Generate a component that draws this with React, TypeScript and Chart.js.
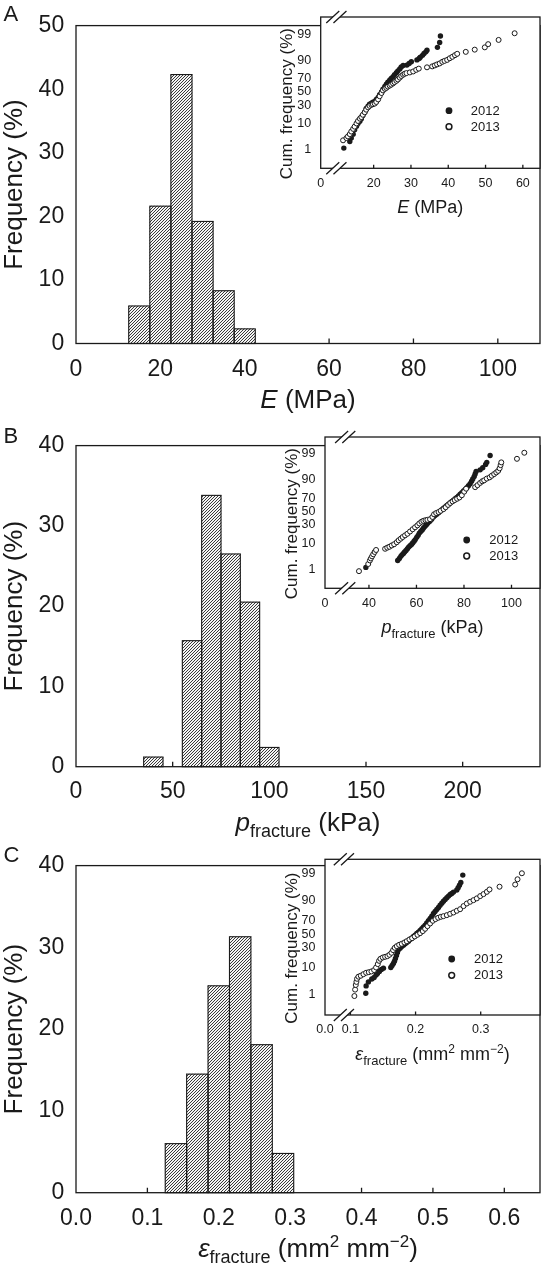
import React, { useEffect, useRef } from "react";
import { Chart, registerables } from "chart.js";
Chart.register(...registerables);

const FONT = '"Liberation Sans", Arial, Helvetica, sans-serif';
const INK = "#1a1a1a";

// ---------------- Panel A : E (MPa) ----------------
const A_BIN_CENTERS = [15, 20, 25, 30, 35, 40];
const A_FREQ = [5.9, 21.6, 42.3, 19.2, 8.3, 2.3];
const A_X_TICKS = [0, 20, 40, 60, 80, 100];
const A_X_LABELS = ["0", "20", "40", "60", "80", "100"];
const A_Y_TICKS = [0, 10, 20, 30, 40, 50];

const A_2012_E = [12.0, 13.6, 14.0, 14.5, 14.9, 15.4, 15.8, 16.3, 16.7, 17.1, 17.6, 18.0, 18.5, 18.9, 19.4, 19.8, 20.3, 20.7, 21.2, 21.6, 22.1, 22.5, 23.0, 23.4, 23.8, 24.3, 24.7, 25.2, 25.6, 26.1, 26.5, 27.0, 27.4, 27.9, 28.9, 29.5, 30.1, 31.6, 32.2, 32.5, 33.1, 33.5, 34.0, 34.3, 37.1, 37.7, 37.9];
const A_2012_CUM = [1.2, 2.3, 3.2, 4.5, 6.4, 8.4, 10.3, 12.0, 14.2, 17.3, 20.8, 25.5, 28.5, 31.2, 32.6, 34.0, 35.4, 38.3, 41.3, 45.9, 50.0, 54.6, 58.7, 62.2, 65.5, 68.4, 70.6, 73.2, 75.7, 78.1, 80.3, 82.4, 84.3, 85.8, 86.1, 87.5, 88.8, 90.2, 91.1, 91.9, 93.0, 94.0, 94.7, 95.4, 96.4, 97.7, 98.8];
const A_2013_E = [11.8, 12.7, 13.1, 13.6, 14.0, 14.5, 14.9, 15.4, 15.8, 16.3, 16.7, 17.1, 17.6, 18.0, 18.5, 18.9, 19.4, 19.8, 20.3, 20.7, 21.2, 21.6, 22.1, 22.5, 23.0, 23.4, 23.8, 24.3, 24.7, 25.2, 25.6, 26.1, 26.5, 27.0, 27.4, 27.9, 28.3, 28.8, 29.7, 30.6, 31.4, 32.1, 34.3, 35.7, 36.4, 37.0, 37.7, 38.4, 39.0, 39.7, 40.4, 41.1, 41.8, 42.4, 44.7, 47.1, 49.8, 50.7, 53.5, 57.8];
const A_2013_CUM = [2.6, 3.2, 3.7, 4.5, 5.6, 6.9, 8.2, 10.3, 12.2, 14.2, 15.7, 18.0, 20.8, 23.9, 26.8, 28.9, 30.3, 31.2, 32.1, 34.5, 38.3, 43.3, 48.4, 52.6, 55.1, 56.7, 58.7, 60.2, 61.7, 63.6, 65.5, 67.4, 69.3, 71.9, 74.1, 75.7, 76.9, 77.7, 78.5, 79.6, 81.4, 82.7, 84.0, 84.9, 85.8, 86.7, 87.5, 88.8, 89.5, 90.2, 91.3, 92.2, 93.1, 93.8, 94.7, 95.6, 96.4, 97.3, 98.2, 99.1];
const A_INSET_X_TICKS = [20, 30, 40, 50, 60];
const A_INSET_X_LABELS = ["20", "30", "40", "50", "60"];
const A_INSET_ORIGIN = "0";

// ---------------- Panel B : p fracture (kPa) ----------------
const B_BIN_CENTERS = [40, 60, 70, 80, 90, 100];
const B_FREQ = [1.2, 15.7, 33.8, 26.5, 20.5, 2.4];
const B_X_TICKS = [0, 50, 100, 150, 200];
const B_X_LABELS = ["0", "50", "100", "150", "200"];
const B_Y_TICKS = [0, 10, 20, 30, 40];

const B_2012_P = [38.7, 52.1, 52.8, 53.4, 53.9, 54.5, 55.0, 55.6, 56.2, 56.7, 57.3, 57.9, 58.4, 59.0, 59.5, 60.1, 60.7, 61.2, 61.8, 62.4, 62.9, 63.5, 64.1, 64.6, 65.2, 65.7, 66.4, 67.1, 67.8, 68.5, 69.3, 70.0, 70.7, 71.4, 72.1, 72.8, 73.5, 74.2, 74.9, 75.6, 76.3, 77.0, 77.7, 78.4, 79.1, 79.8, 80.5, 81.2, 81.9, 82.6, 83.2, 83.7, 84.3, 84.7, 85.1, 86.8, 87.9, 89.1, 89.6, 91.0];
const B_2012_CUM = [1.2, 2.4, 2.9, 3.5, 4.0, 4.5, 5.1, 5.8, 6.6, 7.5, 8.3, 9.1, 10.2, 11.5, 12.8, 14.8, 16.7, 19.1, 20.9, 22.8, 24.8, 27.0, 29.2, 31.4, 33.3, 34.8, 37.7, 41.2, 43.3, 45.3, 47.9, 50.5, 52.6, 55.2, 57.3, 59.3, 61.3, 63.3, 65.7, 67.6, 69.5, 71.3, 73.5, 75.6, 77.6, 79.5, 81.3, 83.0, 84.9, 86.7, 88.8, 90.4, 92.1, 93.4, 94.6, 95.3, 96.1, 97.1, 97.6, 98.8];
const B_2013_P = [35.8, 39.7, 40.4, 40.8, 41.3, 41.8, 42.4, 43.0, 46.8, 47.7, 48.6, 49.6, 50.6, 51.7, 52.5, 53.4, 54.2, 55.2, 56.2, 57.3, 58.4, 59.4, 60.4, 61.2, 62.1, 62.9, 63.8, 64.6, 65.7, 66.7, 67.4, 68.3, 69.3, 70.2, 71.4, 72.3, 73.3, 74.2, 75.2, 76.1, 77.1, 78.1, 79.1, 80.1, 80.9, 84.7, 85.7, 86.8, 87.7, 88.5, 89.6, 90.8, 91.7, 92.7, 93.6, 94.4, 95.0, 95.4, 95.7, 102.3, 105.4];
const B_2013_CUM = [0.8, 1.7, 2.4, 2.9, 3.5, 4.2, 5.1, 6.0, 6.6, 7.2, 7.7, 8.5, 9.3, 10.7, 12.2, 13.6, 15.1, 16.7, 18.4, 20.9, 23.6, 26.1, 28.7, 31.4, 33.8, 35.2, 36.2, 36.7, 37.7, 41.2, 45.3, 47.4, 49.0, 51.0, 53.7, 56.7, 60.3, 63.3, 65.7, 67.6, 69.5, 71.3, 74.3, 78.7, 82.0, 83.6, 85.5, 87.5, 88.8, 89.5, 90.7, 91.5, 92.5, 93.4, 94.2, 94.9, 95.9, 96.9, 97.6, 98.3, 99.1];
const B_INSET_X_TICKS = [40, 60, 80, 100];
const B_INSET_X_LABELS = ["40", "60", "80", "100"];
const B_INSET_ORIGIN = "0";

// ---------------- Panel C : epsilon fracture ----------------
const C_BIN_CENTERS = [0.14, 0.17, 0.2, 0.23, 0.26, 0.29];
const C_FREQ = [6.0, 14.5, 25.3, 31.3, 18.1, 4.8];
const C_X_TICKS = [0, 0.1, 0.2, 0.3, 0.4, 0.5, 0.6];
const C_X_LABELS = ["0.0", "0.1", "0.2", "0.3", "0.4", "0.5", "0.6"];
const C_Y_TICKS = [0, 10, 20, 30, 40];

const C_2012_EPS = [0.1236, 0.1241, 0.1276, 0.1328, 0.1364, 0.1394, 0.1415, 0.1445, 0.1476, 0.1507, 0.162, 0.164, 0.166, 0.1676, 0.1691, 0.1707, 0.1722, 0.1737, 0.1763, 0.1788, 0.1814, 0.184, 0.1865, 0.1891, 0.1916, 0.1942, 0.1968, 0.1993, 0.2019, 0.2044, 0.207, 0.2096, 0.2121, 0.2147, 0.2172, 0.2198, 0.2224, 0.2249, 0.2275, 0.23, 0.2326, 0.2352, 0.2377, 0.2403, 0.2428, 0.2454, 0.248, 0.2505, 0.2531, 0.2556, 0.2582, 0.2633, 0.2654, 0.2674, 0.2695, 0.2725];
const C_2012_CUM = [1.2, 2.4, 3.4, 4.3, 4.9, 5.9, 6.6, 7.7, 8.9, 9.7, 10.1, 11.6, 13.1, 15.1, 17.6, 20.8, 24.2, 27.5, 29.6, 31.9, 33.7, 35.6, 37.5, 39.4, 41.9, 43.9, 46.5, 48.5, 51.0, 53.0, 55.6, 58.1, 61.0, 63.5, 66.7, 69.5, 72.5, 75.4, 78.5, 80.7, 82.7, 84.6, 86.6, 88.2, 89.6, 90.7, 91.8, 92.7, 93.5, 94.0, 94.6, 95.4, 96.2, 96.9, 97.6, 98.8];
const C_2013_EPS = [0.1061, 0.1072, 0.1082, 0.1092, 0.1102, 0.1123, 0.1159, 0.12, 0.1241, 0.1282, 0.1323, 0.1364, 0.1394, 0.142, 0.144, 0.1461, 0.1497, 0.1532, 0.1568, 0.1599, 0.163, 0.1655, 0.1681, 0.1712, 0.1748, 0.1788, 0.1829, 0.1865, 0.1906, 0.1947, 0.1988, 0.2029, 0.207, 0.2111, 0.2147, 0.2183, 0.2224, 0.2265, 0.2306, 0.2347, 0.2388, 0.2428, 0.248, 0.2531, 0.2582, 0.2633, 0.2684, 0.2736, 0.2787, 0.2838, 0.2889, 0.294, 0.2992, 0.3043, 0.3094, 0.3135, 0.3289, 0.3529, 0.3565, 0.3632];
const C_2013_CUM = [0.9, 1.7, 2.6, 3.4, 4.4, 5.2, 5.6, 6.3, 7.0, 7.3, 7.7, 8.5, 10.1, 12.6, 15.4, 17.3, 18.6, 19.3, 20.0, 21.5, 23.8, 27.1, 30.1, 32.3, 34.2, 35.6, 37.5, 39.4, 41.9, 43.9, 46.5, 49.0, 51.5, 54.6, 58.1, 62.0, 65.8, 69.5, 71.7, 73.4, 74.6, 75.4, 76.6, 78.1, 79.6, 81.4, 83.0, 85.8, 87.9, 89.2, 90.3, 91.4, 92.7, 93.7, 94.7, 95.6, 96.5, 97.1, 98.2, 99.0];
const C_INSET_X_TICKS = [0.1, 0.2, 0.3];
const C_INSET_X_LABELS = ["0.1", "0.2", "0.3"];
const C_INSET_ORIGIN = "0.0";

// shared
const CUM_TICKS = [1, 10, 30, 50, 70, 90, 99];
const SERIES_NAMES = ["2012", "2013"];

// ---------------- helpers ----------------
type Seg = { t: string; size?: number; italic?: boolean; dy?: number };

// inverse standard-normal CDF (probability-axis transform)
function probit(p: number): number {
  const a = [-3.969683028665376e1, 2.209460984245205e2, -2.759285104469687e2, 1.38357751867269e2, -3.066479806614716e1, 2.506628277459239];
  const b = [-5.447609879822406e1, 1.615858368580409e2, -1.556989798598866e2, 6.680131188771972e1, -1.328068155288572e1];
  const c = [-7.784894002430293e-3, -3.223964580411365e-1, -2.400758277161838, -2.549732539343734, 4.374664141464968, 2.938163982698783];
  const d = [7.784695709041462e-3, 3.224671290700398e-1, 2.445134137142996, 3.754408661907416];
  const pl = 0.02425;
  if (p < pl) {
    const q = Math.sqrt(-2 * Math.log(p));
    return (((((c[0] * q + c[1]) * q + c[2]) * q + c[3]) * q + c[4]) * q + c[5]) / ((((d[0] * q + d[1]) * q + d[2]) * q + d[3]) * q + 1);
  }
  if (p <= 1 - pl) {
    const q = p - 0.5;
    const r = q * q;
    return ((((((a[0] * r + a[1]) * r + a[2]) * r + a[3]) * r + a[4]) * r + a[5]) * q) / (((((b[0] * r + b[1]) * r + b[2]) * r + b[3]) * r + b[4]) * r + 1);
  }
  const q = Math.sqrt(-2 * Math.log(1 - p));
  return -(((((c[0] * q + c[1]) * q + c[2]) * q + c[3]) * q + c[4]) * q + c[5]) / ((((d[0] * q + d[1]) * q + d[2]) * q + d[3]) * q + 1);
}

function drawRich(ctx: CanvasRenderingContext2D, segs: Seg[], x: number, y: number, base: number, rot = 0) {
  ctx.save();
  ctx.translate(x, y);
  if (rot) ctx.rotate(rot);
  ctx.fillStyle = INK;
  ctx.textBaseline = "alphabetic";
  ctx.textAlign = "left";
  const fontOf = (s: Seg) => `${s.italic ? "italic " : ""}${s.size ?? base}px ${FONT}`;
  let total = 0;
  const ws = segs.map((s) => {
    ctx.font = fontOf(s);
    const w = ctx.measureText(s.t).width;
    total += w;
    return w;
  });
  let cx = -total / 2;
  segs.forEach((s, i) => {
    ctx.font = fontOf(s);
    ctx.fillText(s.t, cx, s.dy ?? 0);
    cx += ws[i];
  });
  ctx.restore();
}

function makeHatch(ctx: CanvasRenderingContext2D) {
  const n = 3;
  const t = document.createElement("canvas");
  t.width = n;
  t.height = n;
  const g = t.getContext("2d")!;
  g.fillStyle = "#f4f4f4";
  g.fillRect(0, 0, n, n);
  g.fillStyle = "#3a3a3a";
  for (let i = 0; i < n; i++) g.fillRect(i, n - 1 - i, 1, 1);
  return ctx.createPattern(t, "repeat")!;
}

function drawBreak(ctx: CanvasRenderingContext2D, bx: number, by: number) {
  const h = 6, w = 6.5, g = 3.6;
  ctx.save();
  ctx.fillStyle = "#ffffff";
  ctx.beginPath();
  ctx.moveTo(bx - g - w, by + h);
  ctx.lineTo(bx - g + w, by - h);
  ctx.lineTo(bx + g + w, by - h);
  ctx.lineTo(bx + g - w, by + h);
  ctx.closePath();
  ctx.fill();
  ctx.strokeStyle = INK;
  ctx.lineWidth = 1.3;
  ctx.beginPath();
  ctx.moveTo(bx - g - w, by + h);
  ctx.lineTo(bx - g + w, by - h);
  ctx.moveTo(bx + g - w, by + h);
  ctx.lineTo(bx + g + w, by - h);
  ctx.stroke();
  ctx.restore();
}

// ---------------- layout ----------------
const W = 543;
type Area = { l: number; r: number; t: number; b: number };

type MainPanel = {
  top: number; height: number; area: Area;
  xMin: number; xMax: number; yMax: number;
  centers: number[]; freq: number[];
  xTicks: number[]; xLabels: string[]; yTicks: number[];
  xTitle: Seg[]; letter: string; letterY: number; xPad: number;
};

const MAIN: MainPanel[] = [
  {
    top: 0, height: 420, area: { l: 76, r: 540, t: 11, b: 343.5 },
    xMin: 0, xMax: 110, yMax: 50,
    centers: A_BIN_CENTERS, freq: A_FREQ, xTicks: A_X_TICKS, xLabels: A_X_LABELS, yTicks: A_Y_TICKS,
    xTitle: [{ t: "E", italic: true }, { t: " (MPa)" }], letter: "A", letterY: 20.5, xPad: 12.7,
  },
  {
    top: 420, height: 420, area: { l: 76, r: 540, t: 12.7, b: 346.7 },
    xMin: 0, xMax: 240, yMax: 40,
    centers: B_BIN_CENTERS, freq: B_FREQ, xTicks: B_X_TICKS, xLabels: B_X_LABELS, yTicks: B_Y_TICKS,
    xTitle: [{ t: "p", italic: true }, { t: "fracture", size: 18, dy: 6 }, { t: " (kPa)" }], letter: "B", letterY: 23.3, xPad: 11.5,
  },
  {
    top: 840, height: 440, area: { l: 76, r: 540, t: 19.3, b: 352.7 },
    xMin: 0, xMax: 0.65, yMax: 40,
    centers: C_BIN_CENTERS, freq: C_FREQ, xTicks: C_X_TICKS, xLabels: C_X_LABELS, yTicks: C_Y_TICKS,
    xTitle: [
      { t: "ε", italic: true }, { t: "fracture", size: 18, dy: 6 }, { t: " (mm" }, { t: "2", size: 17, dy: -10 },
      { t: " mm" }, { t: "−2", size: 17, dy: -10 }, { t: ")" },
    ],
    letter: "C", letterY: 21.7, xPad: 12,
  },
];

type InsetPanel = {
  left: number; top: number; width: number; height: number; area: Area;
  xMin: number; xMax: number; yMin: number; yMax: number; xBreak: number;
  xTicks: number[]; xLabels: string[]; origin: string;
  x2012: number[]; c2012: number[]; x2013: number[]; c2013: number[];
  xTitle: Seg[]; legend: { dx: number; dy1: number; dy2: number; tx: number };
};

const INSETS: InsetPanel[] = [
  {
    left: 240, top: 0, width: 303, height: 240, area: { l: 80.7, r: 300, t: 11, b: 168.3 },
    xMin: 5.8, xMax: 64.6, yMin: -3.07, yMax: 3.02, xBreak: 10,
    xTicks: A_INSET_X_TICKS, xLabels: A_INSET_X_LABELS, origin: A_INSET_ORIGIN,
    x2012: A_2012_E, c2012: A_2012_CUM, x2013: A_2013_E, c2013: A_2013_CUM,
    xTitle: [{ t: "E", italic: true }, { t: " (MPa)" }],
    legend: { dx: 128.3, dy1: -57.6, dy2: -41.6, tx: 150 },
  },
  {
    left: 240, top: 420, width: 303, height: 240, area: { l: 85, r: 300, t: 12.7, b: 168.3 },
    xMin: 21.5, xMax: 112, yMin: -3.1, yMax: 3.0, xBreak: 30,
    xTicks: B_INSET_X_TICKS, xLabels: B_INSET_X_LABELS, origin: B_INSET_ORIGIN,
    x2012: B_2012_P, c2012: B_2012_CUM, x2013: B_2013_P, c2013: B_2013_CUM,
    xTitle: [{ t: "p", italic: true }, { t: "fracture", size: 13, dy: 4.5 }, { t: " (kPa)" }],
    legend: { dx: 141.7, dy1: -48.3, dy2: -32.3, tx: 164.3 },
  },
  {
    left: 240, top: 840, width: 303, height: 240, area: { l: 85, r: 300, t: 19.3, b: 175 },
    xMin: 0.061, xMax: 0.391, yMin: -3.09, yMax: 2.86, xBreak: 0.09,
    xTicks: C_INSET_X_TICKS, xLabels: C_INSET_X_LABELS, origin: C_INSET_ORIGIN,
    x2012: C_2012_EPS, c2012: C_2012_CUM, x2013: C_2013_EPS, c2013: C_2013_CUM,
    xTitle: [
      { t: "ε", italic: true }, { t: "fracture", size: 13, dy: 4.5 }, { t: " (mm" }, { t: "2", size: 12, dy: -7 },
      { t: " mm" }, { t: "−2", size: 12, dy: -7 }, { t: ")" },
    ],
    legend: { dx: 126.7, dy1: -56, dy2: -39.7, tx: 149 },
  },
];

function mainConfig(ctx: CanvasRenderingContext2D, p: MainPanel): any {
  const hatch = makeHatch(ctx);
  return {
    type: "bar",
    data: {
      datasets: [
        {
          data: p.centers.map((c, i) => ({ x: c, y: p.freq[i] })),
          backgroundColor: hatch,
          borderWidth: 0,
          barPercentage: 1,
          categoryPercentage: 1,
        },
      ],
    },
    options: {
      animation: false,
      responsive: false,
      maintainAspectRatio: false,
      events: [],
      layout: { autoPadding: false, padding: { left: 0, top: p.area.t, right: W - p.area.r, bottom: 0 } },
      plugins: { legend: { display: false }, tooltip: { enabled: false }, title: { display: false } },
      scales: {
        x: {
          type: "linear", min: p.xMin, max: p.xMax, offset: false,
          grid: { display: false, drawTicks: false }, border: { display: false },
          afterBuildTicks: (ax: any) => { ax.ticks = p.xTicks.map((v) => ({ value: v })); },
          afterFit: (ax: any) => { ax.height = p.height - p.area.b; },
          ticks: {
            autoSkip: false, maxRotation: 0, minRotation: 0, padding: p.xPad, color: INK,
            font: { family: FONT, size: 23 },
            callback: (_v: any, i: number) => p.xLabels[i],
          },
        },
        y: {
          type: "linear", min: 0, max: p.yMax,
          grid: { display: false, drawTicks: false }, border: { display: false },
          afterBuildTicks: (ax: any) => { ax.ticks = p.yTicks.map((v) => ({ value: v })); },
          afterFit: (ax: any) => { ax.width = p.area.l; },
          ticks: { padding: 11.8, color: INK, font: { family: FONT, size: 23 }, callback: (v: any) => String(v) },
        },
      },
    },
    plugins: [
      {
        id: "mainDeco",
        beforeDatasetsDraw(chart: any) {
          const c = chart.ctx, a = chart.chartArea, xs = chart.scales.x;
          c.save();
          c.strokeStyle = INK;
          c.lineWidth = 1.3;
          c.beginPath();
          p.xTicks.forEach((v) => {
            if (v <= p.xMin || v >= p.xMax) return;
            const x = xs.getPixelForValue(v);
            c.moveTo(x, a.bottom);
            c.lineTo(x, a.bottom - 5);
          });
          c.stroke();
          c.restore();
        },
        afterDatasetsDraw(chart: any) {
          const c = chart.ctx;
          const meta = chart.getDatasetMeta(0);
          c.save();
          c.strokeStyle = INK;
          c.lineWidth = 1.1;
          meta.data.forEach((bar: any) => {
            const { x, y, base, width } = bar.getProps(["x", "y", "base", "width"], true);
            c.strokeRect(x - width / 2, y, width, base - y);
          });
          c.restore();
        },
        afterDraw(chart: any) {
          const c = chart.ctx, a = chart.chartArea;
          c.save();
          c.strokeStyle = INK;
          c.lineWidth = 1.3;
          c.strokeRect(a.left, a.top, a.right - a.left, a.bottom - a.top);
          c.restore();
          drawRich(c, p.xTitle, (a.left + a.right) / 2, a.bottom + 64.5, 26);
          drawRich(c, [{ t: "Frequency (%)" }], 22, (a.top + a.bottom) / 2, 26, -Math.PI / 2);
          c.save();
          c.fillStyle = INK;
          c.font = `22px ${FONT}`;
          c.textAlign = "left";
          c.textBaseline = "alphabetic";
          c.fillText(p.letter, 3.5, p.letterY);
          c.restore();
        },
      },
    ],
  };
}

function insetConfig(_ctx: CanvasRenderingContext2D, p: InsetPanel): any {
  const xTickVals = [p.xMin, ...p.xTicks];
  const xTickLabels = [p.origin, ...p.xLabels];
  return {
    type: "scatter",
    data: {
      datasets: [
        {
          label: SERIES_NAMES[0],
          data: p.x2012.map((x, i) => ({ x, y: probit(p.c2012[i] / 100) })),
          pointRadius: 2.7,
          pointBackgroundColor: INK,
          pointBorderColor: INK,
          pointBorderWidth: 0,
          order: 1,
        },
        {
          label: SERIES_NAMES[1],
          data: p.x2013.map((x, i) => ({ x, y: probit(p.c2013[i] / 100) })),
          pointRadius: 2.5,
          pointBackgroundColor: "#ffffff",
          pointBorderColor: INK,
          pointBorderWidth: 1,
          order: 0,
        },
      ],
    },
    options: {
      animation: false,
      responsive: false,
      maintainAspectRatio: false,
      events: [],
      layout: { autoPadding: false, padding: { left: 0, top: p.area.t, right: p.width - p.area.r, bottom: 0 } },
      plugins: { legend: { display: false }, tooltip: { enabled: false }, title: { display: false } },
      scales: {
        x: {
          type: "linear", min: p.xMin, max: p.xMax,
          grid: { display: false, drawTicks: false }, border: { display: false },
          afterBuildTicks: (ax: any) => { ax.ticks = xTickVals.map((v) => ({ value: v })); },
          afterFit: (ax: any) => { ax.height = p.height - p.area.b; },
          ticks: {
            autoSkip: false, maxRotation: 0, minRotation: 0, padding: 7.5, color: INK,
            font: { family: FONT, size: 12.5 },
            callback: (_v: any, i: number) => xTickLabels[i],
          },
        },
        y: {
          type: "linear", min: p.yMin, max: p.yMax,
          grid: { display: false, drawTicks: false }, border: { display: false },
          afterBuildTicks: (ax: any) => { ax.ticks = CUM_TICKS.map((v) => ({ value: probit(v / 100) })); },
          afterFit: (ax: any) => { ax.width = p.area.l; },
          ticks: {
            padding: 9.5, color: INK, font: { family: FONT, size: 12.5 },
            callback: (_v: any, i: number) => String(CUM_TICKS[i]),
          },
        },
      },
    },
    plugins: [
      {
        id: "insetDeco",
        beforeDatasetsDraw(chart: any) {
          const c = chart.ctx, a = chart.chartArea;
          c.save();
          c.fillStyle = "#ffffff";
          c.fillRect(a.left, a.top, a.right - a.left, a.bottom - a.top);
          c.restore();
        },
        afterDraw(chart: any) {
          const c = chart.ctx, a = chart.chartArea, xs = chart.scales.x;
          c.save();
          c.strokeStyle = INK;
          c.lineWidth = 1.3;
          c.strokeRect(a.left, a.top, a.right - a.left, a.bottom - a.top);
          c.beginPath();
          p.xTicks.forEach((v) => {
            const x = xs.getPixelForValue(v);
            c.moveTo(x, a.bottom);
            c.lineTo(x, a.bottom - 3.5);
          });
          c.stroke();
          c.restore();
          const bx = xs.getPixelForValue(p.xBreak);
          drawBreak(c, bx, a.top);
          drawBreak(c, bx, a.bottom);
          // legend
          const lx = a.left + p.legend.dx;
          c.save();
          c.fillStyle = INK;
          c.beginPath();
          c.arc(lx, a.bottom + p.legend.dy1, 3.4, 0, Math.PI * 2);
          c.fill();
          c.strokeStyle = INK;
          c.lineWidth = 1.5;
          c.fillStyle = "#ffffff";
          c.beginPath();
          c.arc(lx, a.bottom + p.legend.dy2, 2.9, 0, Math.PI * 2);
          c.fill();
          c.stroke();
          c.fillStyle = INK;
          c.font = `13px ${FONT}`;
          c.textAlign = "left";
          c.textBaseline = "middle";
          c.fillText(SERIES_NAMES[0], a.left + p.legend.tx, a.bottom + p.legend.dy1 + 0.5);
          c.fillText(SERIES_NAMES[1], a.left + p.legend.tx, a.bottom + p.legend.dy2 + 0.5);
          c.restore();
          drawRich(c, p.xTitle, (a.left + a.right) / 2, a.bottom + 45, 18);
          drawRich(c, [{ t: "Cum. frequency (%)" }], a.left - 28.5, (a.top + a.bottom) / 2 + 11, 17, -Math.PI / 2);
        },
      },
    ],
  };
}

function ChartCanvas(props: { left: number; top: number; width: number; height: number; build: (ctx: CanvasRenderingContext2D) => any }) {
  const ref = useRef<HTMLCanvasElement>(null);
  useEffect(() => {
    const cv = ref.current!;
    const ctx = cv.getContext("2d")!;
    const chart = new Chart(ctx, props.build(ctx));
    return () => chart.destroy();
  }, []);
  return (
    <canvas
      ref={ref}
      width={props.width}
      height={props.height}
      style={{ position: "absolute", left: props.left, top: props.top, width: props.width, height: props.height }}
    />
  );
}

export default function App() {
  return (
    <div style={{ position: "absolute", left: 0, top: 0, width: W, height: 1280, background: "#ffffff", overflow: "hidden" }}>
      {MAIN.map((p, i) => (
        <ChartCanvas key={"m" + i} left={0} top={p.top} width={W} height={p.height} build={(ctx) => mainConfig(ctx, p)} />
      ))}
      {INSETS.map((p, i) => (
        <ChartCanvas key={"i" + i} left={p.left} top={p.top} width={p.width} height={p.height} build={(ctx) => insetConfig(ctx, p)} />
      ))}
    </div>
  );
}
